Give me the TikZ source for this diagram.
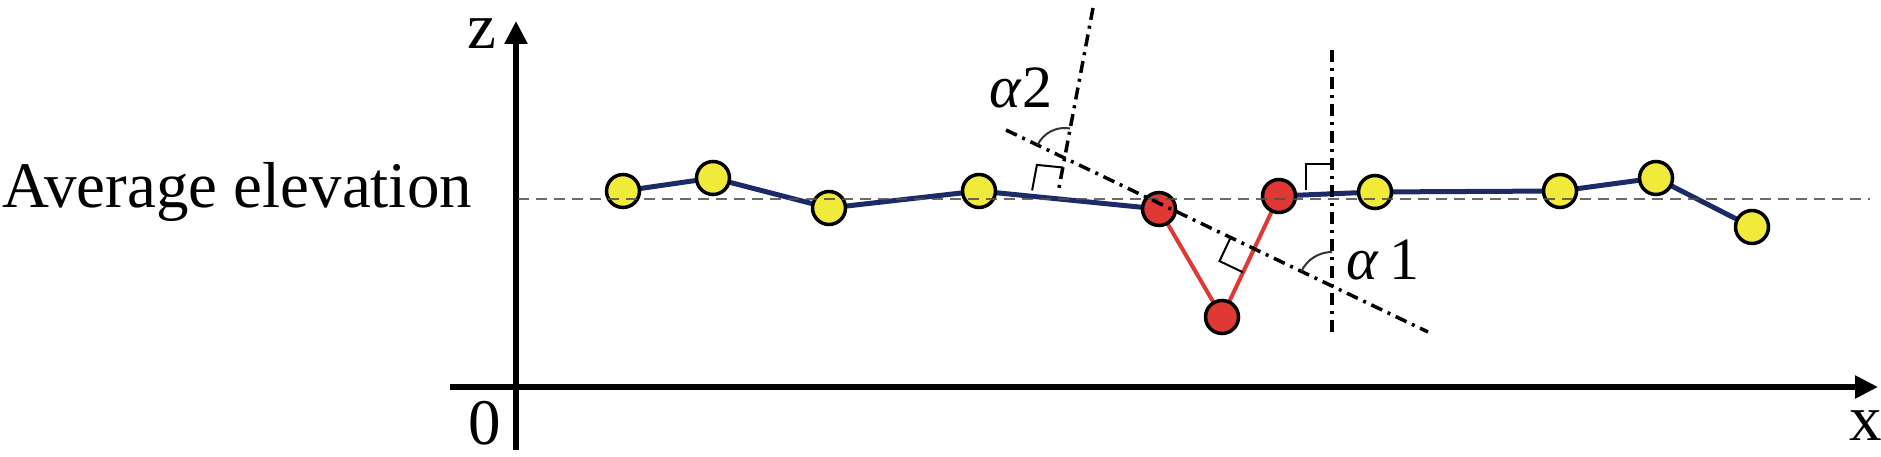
\documentclass[tikz,border=0pt]{standalone}
\usepackage{fontspec}
\setmainfont{Liberation Serif}
\usetikzlibrary{arrows.meta,calc}
\definecolor{ptyellow}{RGB}{240,234,58}
\definecolor{ptred}{RGB}{224,56,52}
\definecolor{ptblue}{RGB}{28,42,105}
\definecolor{avggray}{RGB}{80,80,80}
\tikzset{
  axisline/.style={line width=5.5pt,-{Triangle[width=22pt,length=23pt]}},
  ypt/.style={circle,draw=black,line width=3.5pt,fill=ptyellow,minimum size=33pt,inner sep=0pt},
  rpt/.style={circle,draw=black,line width=3.5pt,fill=ptred,minimum size=33pt,inner sep=0pt},
  profile/.style={draw=ptblue,line width=5pt},
  pitline/.style={draw=ptred,line width=4pt},
  avgline/.style={draw=avggray,line width=2.6pt,dash pattern=on 11pt off 7pt,opacity=0.85},
  dashdot/.style={draw=black,line width=3.5pt,dash pattern=on 12pt off 6pt on 3pt off 6pt},
  rightbox/.style={draw=black,line width=2pt},
  anglearc/.style={draw=black!80,line width=2pt},
  lbl/.style={inner sep=0pt,font=\fontsize{65}{72}\selectfont},
  albl/.style={inner sep=0pt,font=\fontsize{60}{66}\selectfont}
}
\begin{document}
\begin{tikzpicture}[x=1pt,y=1pt]
\useasboundingbox (0,0) rectangle (1881,457);
% axes
\coordinate (zbot) at (516,7);
\coordinate (ztop) at (516,436);
\coordinate (xleft) at (450,70);
\coordinate (xright) at (1878,70);
\draw[axisline] (zbot) -- (ztop);
\draw[axisline] (xleft) -- (xright);
\node[lbl,anchor=base] (zl) at (482,408) {z};
\node[lbl,anchor=base] (ol) at (485,12) {0};
\node[lbl,anchor=base] (xl) at (1866,16) {x};
\node[lbl,anchor=base west] (avg) at (2,249) {Average elevation};
% points
\coordinate (n1c) at (623,266);
\coordinate (n2c) at (713,279);
\coordinate (n3c) at (829,249);
\coordinate (n4c) at (979,266);
\coordinate (r5c) at (1159,248);
\coordinate (r6c) at (1222,140);
\coordinate (r7c) at (1279,261);
\coordinate (n8c) at (1375,265);
\coordinate (n9c) at (1560,266);
\coordinate (n10c) at (1656,279);
\coordinate (n11c) at (1752,230);
% profile lines
\draw[profile] (n1c) -- (n2c) -- (n3c) -- (n4c) -- (r5c);
\draw[profile] (r7c) -- (n8c) -- (n9c) -- (n10c) -- (n11c);
\draw[pitline] (r5c) -- (r6c) -- (r7c);
% nodes
\node[ypt] (n1) at (n1c) {};
\node[ypt] (n2) at (n2c) {};
\node[ypt] (n3) at (n3c) {};
\node[ypt] (n4) at (n4c) {};
\node[rpt] (r5) at (r5c) {};
\node[rpt] (r6) at (r6c) {};
\node[rpt] (r7) at (r7c) {};
\node[ypt] (n8) at (n8c) {};
\node[ypt] (n9) at (n9c) {};
\node[ypt] (n10) at (n10c) {};
\node[ypt] (n11) at (n11c) {};
% average elevation
\coordinate (avgL) at (518,258);
\coordinate (avgR) at (1870,258);
\draw[avgline] (avgL) -- (avgR);
% dash-dot construction lines
\coordinate (aTop) at (1093,449);
\coordinate (aFoot) at (1058,264);
\coordinate (bL) at (1006,327);
\coordinate (bR) at (1428,125);
\coordinate (cTop) at (1332,407);
\coordinate (cBot) at (1332,123);
\draw[dashdot] (aTop) -- (aFoot);
\draw[dashdot] (bL) -- (bR);
\draw[dashdot] (cTop) -- (cBot);
% right-angle boxes (size 26)
\coordinate (ba1) at (1032.1,266.6);
\coordinate (ba2) at (1036.9,292.1);
\coordinate (ba3) at (1062.9,289.5);
\draw[rightbox] (ba1) -- (ba2) -- (ba3);
\coordinate (bc1) at (1306,267);
\coordinate (bc2) at (1306,293);
\coordinate (bc3) at (1332,293);
\draw[rightbox] (bc1) -- (bc2) -- (bc3);
\coordinate (bb1) at (1230.6,219.4);
\coordinate (bb2) at (1219.5,195.9);
\coordinate (bb3) at (1243.0,184.7);
\draw[rightbox] (bb1) -- (bb2) -- (bb3);
% angle arcs
\coordinate (x2) at (1064.6,299);
\coordinate (x1) at (1332,171);
\draw[anglearc] ([shift={(154.4:30)}]x2) arc[start angle=154.4,end angle=79.3,radius=30];
\draw[anglearc] ([shift={(154.4:34)}]x1) arc[start angle=154.4,end angle=90,radius=34];
\node[albl] (a2) at (1021,369) {\textit{α}2};
\node[albl] (a1) at (1383,197) {\textit{α}\,1};
\end{tikzpicture}
\end{document}
